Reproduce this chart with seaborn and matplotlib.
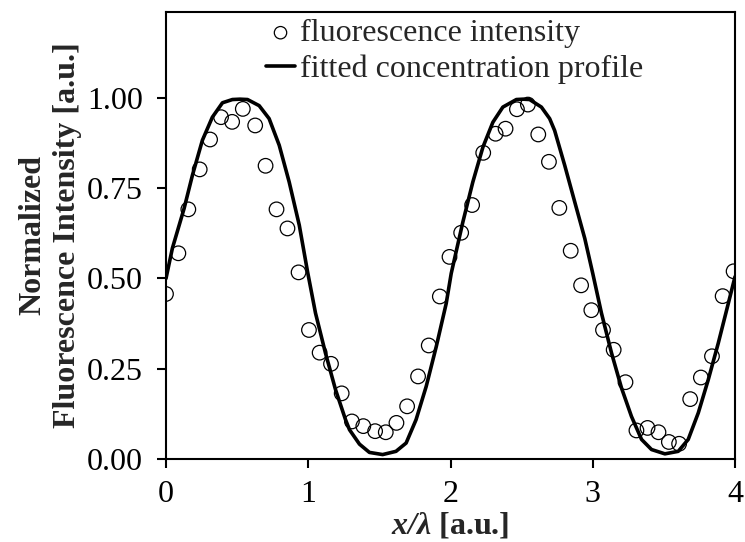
import numpy as np
import pandas as pd
import matplotlib
matplotlib.use("Agg")
import matplotlib.pyplot as plt
import seaborn as sns

obs_x = [0.00, 0.087, 0.157, 0.237, 0.310, 0.387, 0.465, 0.540, 0.627, 0.700,
         0.777, 0.854, 0.932, 1.005, 1.080, 1.160, 1.235, 1.307, 1.387, 1.470,
         1.545, 1.620, 1.695, 1.772, 1.847, 1.925, 1.993, 2.075, 2.152, 2.230,
         2.317, 2.387, 2.467, 2.544, 2.617, 2.692, 2.765, 2.845, 2.918, 2.990,
         3.072, 3.147, 3.230, 3.307, 3.385, 3.462, 3.535, 3.607, 3.685, 3.760,
         3.838, 3.913, 3.990]
obs_y = [0.457, 0.570, 0.692, 0.803, 0.886, 0.948, 0.935, 0.971, 0.925, 0.813,
         0.692, 0.639, 0.517, 0.357, 0.294, 0.263, 0.181, 0.103, 0.090, 0.076,
         0.073, 0.099, 0.145, 0.228, 0.314, 0.450, 0.560, 0.627, 0.704, 0.849,
         0.902, 0.916, 0.970, 0.983, 0.900, 0.824, 0.696, 0.577, 0.481, 0.412,
         0.357, 0.302, 0.212, 0.078, 0.085, 0.073, 0.046, 0.041, 0.165, 0.225,
         0.284, 0.451, 0.520]

# fitted concentration profile
fit_x = [0.000, 0.045, 0.127, 0.186, 0.256, 0.326, 0.397, 0.467, 0.520, 0.573,
         0.655, 0.725, 0.796, 0.866, 0.937, 0.995, 1.051, 1.121, 1.192, 1.262,
         1.290, 1.360, 1.430, 1.523, 1.617, 1.688, 1.758, 1.829, 1.900, 1.970,
         2.005, 2.087, 2.157, 2.228, 2.298, 2.368, 2.463, 2.510, 2.556, 2.639,
         2.697, 2.732, 2.803, 2.873, 2.944, 3.000, 3.061, 3.132, 3.202, 3.272,
         3.343, 3.413, 3.507, 3.601, 3.671, 3.742, 3.812, 3.882, 3.953, 4.000]
fit_y = [0.500, 0.584, 0.694, 0.787, 0.884, 0.948, 0.988, 0.997, 0.998, 0.997,
         0.980, 0.944, 0.870, 0.768, 0.648, 0.519, 0.404, 0.293, 0.191, 0.108,
         0.080, 0.040, 0.017, 0.011, 0.020, 0.043, 0.108, 0.200, 0.311, 0.431,
         0.514, 0.657, 0.768, 0.865, 0.934, 0.976, 0.997, 0.998, 0.997, 0.976,
         0.944, 0.911, 0.814, 0.713, 0.611, 0.514, 0.404, 0.293, 0.196, 0.117,
         0.053, 0.025, 0.013, 0.020, 0.053, 0.127, 0.219, 0.320, 0.431, 0.505]

x_ticks = [0, 1, 2, 3, 4]
x_ticklabels = ["0", "1", "2", "3", "4"]
y_ticks = [0.0, 0.25, 0.5, 0.75, 1.0]
y_ticklabels = ["0.00", "0.25", "0.50", "0.75", "1.00"]

sns.set_style("ticks")
plt.rcParams["font.family"] = ["Liberation Serif", "DejaVu Serif"]
plt.rcParams["mathtext.fontset"] = "custom"
plt.rcParams["mathtext.rm"] = "Liberation Serif"
plt.rcParams["mathtext.it"] = "Liberation Serif:italic"
plt.rcParams["mathtext.bf"] = "Liberation Serif:bold"
plt.rcParams["mathtext.bfit"] = "Liberation Serif:bold:italic"

obs_df = pd.DataFrame({"x": obs_x, "y": obs_y})
fit_df = pd.DataFrame({"x": fit_x, "y": fit_y})

fig = plt.figure(figsize=(7.45, 5.42), dpi=100)
ax = fig.add_axes([0.2228, 0.154, 0.7638, 0.8238])

sns.scatterplot(data=obs_df, x="x", y="y", ax=ax, marker="o", s=110,
                facecolor="none", edgecolor="black", linewidth=0.9,
                label="fluorescence intensity", zorder=3)
sns.lineplot(data=fit_df, x="x", y="y", ax=ax, color="black", linewidth=2.6,
             estimator=None, sort=False, label="fitted concentration profile",
             zorder=2)

ax.set_xlim(0, 4)
ax.set_ylim(0, 1.24)
ax.set_xticks(x_ticks)
ax.set_xticklabels(x_ticklabels)
ax.set_yticks(y_ticks)
ax.set_yticklabels(y_ticklabels)
ax.tick_params(axis="both", direction="out", length=6.5, width=1.5,
               labelsize=23, pad=10, colors="black")
ax.tick_params(axis="x", pad=9)

for sp in ax.spines.values():
    sp.set_visible(True)
    sp.set_linewidth(1.5)
    sp.set_color("black")

ax.set_xlabel(r"$\mathbfit{x/λ}$ [a.u.]", fontsize=23, fontweight="bold",
              labelpad=1)
ax.set_ylabel("Normalized\nFluorescence Intensity [a.u.]", fontsize=23,
              fontweight="bold", labelpad=4, linespacing=1.25)

leg = ax.legend(loc="upper left", bbox_to_anchor=(0.176, 0.985),
                frameon=False, fontsize=23, handlelength=0.9,
                handletextpad=0.15, labelspacing=0.2, borderpad=0,
                borderaxespad=0, markerscale=0.85)

fig.savefig("out.png", dpi=100)
